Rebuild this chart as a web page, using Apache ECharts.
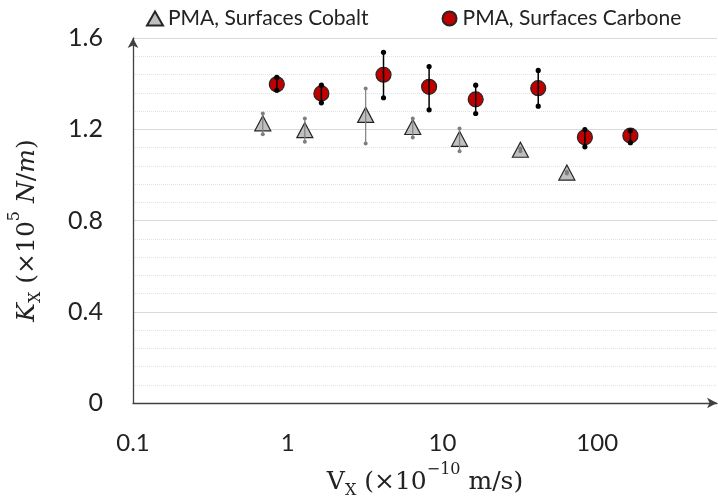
<!DOCTYPE html>
<html>
<head>
<meta charset="utf-8">
<script src="https://cdn.jsdelivr.net/npm/echarts@6/dist/echarts.min.js"></script>
<style>
  html, body { margin: 0; padding: 0; background: #fff; }
  #chart { width: 718px; height: 496px; }
</style>
</head>
<body>
<div id="chart"></div>
<script>
// PMA, Surfaces Cobalt
var cobaltX = [0.69, 1.29, 3.19, 6.43, 12.9, 31.9, 63.7];
var cobaltY = [1.226, 1.196, 1.263, 1.210, 1.158, 1.110, 1.010];
var cobaltLow = [1.178, 1.145, 1.138, 1.164, 1.104, 1.104, 1.006];
var cobaltHigh = [1.269, 1.247, 1.379, 1.247, 1.203, 1.116, 1.014];

// PMA, Surfaces Carbone
var carboneX = [0.85, 1.65, 4.16, 8.2, 16.4, 41.6, 83.3, 164];
var carboneY = [1.397, 1.357, 1.439, 1.386, 1.331, 1.380, 1.165, 1.172];
var carboneLow = [1.371, 1.316, 1.338, 1.285, 1.269, 1.301, 1.123, 1.141];
var carboneHigh = [1.427, 1.393, 1.537, 1.475, 1.393, 1.458, 1.199, 1.193];

var yTicks = [0, 0.4, 0.8, 1.2, 1.6];

function pairs(xs, ys) {
  return xs.map(function (x, i) { return [x, ys[i]]; });
}
function errRows(xs, lo, hi) {
  return xs.map(function (x, i) { return [x, lo[i], hi[i]]; });
}

// error bar drawn as a line with small dots at both ends
function errorBar(color, width, dot) {
  return function (params, api) {
    var p1 = api.coord([api.value(0), api.value(1)]);
    var p2 = api.coord([api.value(0), api.value(2)]);
    return {
      type: 'group',
      children: [
        { type: 'line', shape: { x1: p1[0], y1: p1[1], x2: p2[0], y2: p2[1] },
          style: { stroke: color, lineWidth: width } },
        { type: 'circle', shape: { cx: p1[0], cy: p1[1], r: dot }, style: { fill: color } },
        { type: 'circle', shape: { cx: p2[0], cy: p2[1], r: dot }, style: { fill: color } }
      ]
    };
  };
}

var serif = 'DejaVu Serif';
var ink = '#222';

var chart = echarts.init(document.getElementById('chart'));
chart.setOption({
  animation: false,
  textStyle: { fontFamily: 'Lato' },
  legend: {
    top: 3,
    left: 141,
    itemGap: 73,
    itemWidth: 16,
    itemHeight: 14,
    textStyle: { fontSize: 21, color: ink, fontFamily: 'Lato' },
    data: ['PMA, Surfaces Cobalt', 'PMA, Surfaces Carbone']
  },
  grid: { left: 133, top: 38, right: 1, bottom: 93, containLabel: false, outerBoundsMode: 'none' },
  xAxis: {
    type: 'log',
    logBase: 10,
    min: 0.1,
    max: 595,
    axisLine: { show: true, symbol: ['none', 'arrow'], symbolSize: [8, 10],
      lineStyle: { color: '#404040', width: 1.3 } },
    axisTick: { show: false },
    splitLine: { show: false },
    axisLabel: {
      fontSize: 24, color: ink, margin: 28, showMaxLabel: false,
      formatter: function (v) { return String(parseFloat(v.toPrecision(6))); }
    },
    name: '{b|V}{s|X}{b| (×10}{p|−10}{b| m/s)}',
    nameLocation: 'middle',
    nameGap: 62,
    nameTextStyle: {
      rich: {
        b: { fontFamily: serif, fontSize: 25, color: ink, lineHeight: 30, verticalAlign: 'bottom' },
        s: { fontFamily: serif, fontSize: 16, color: ink, lineHeight: 16, verticalAlign: 'bottom', padding: [0, 0, -4, 0] },
        p: { fontFamily: serif, fontSize: 16, color: ink, lineHeight: 16, verticalAlign: 'top', padding: [-3, 0, 0, 0] }
      }
    }
  },
  yAxis: {
    type: 'value',
    min: yTicks[0],
    max: yTicks[yTicks.length - 1],
    interval: 0.4,
    axisLine: { show: true, symbol: ['none', 'arrow'], symbolSize: [8, 10],
      lineStyle: { color: '#404040', width: 1.3 } },
    axisTick: { show: false },
    axisLabel: { fontSize: 25, color: ink, margin: 30 },
    splitLine: { lineStyle: { color: '#d9d9d9', width: 1 } },
    minorTick: { show: false, splitNumber: 5 },
    minorSplitLine: { show: true, lineStyle: { color: '#e2e2e2', type: 'dotted', width: 1 } },
    name: '{i|K}{s|X}{b| (×10}{p|5}{b| }{i|N}{b|/}{i|m}{b|)}',
    nameLocation: 'middle',
    nameRotate: 90,
    nameGap: 93,
    nameTextStyle: {
      padding: [0, 20, 0, 0],
      rich: {
        b: { fontFamily: serif, fontSize: 25, color: ink, lineHeight: 30, verticalAlign: 'bottom' },
        i: { fontFamily: serif, fontStyle: 'italic', fontSize: 25, color: ink, lineHeight: 30, verticalAlign: 'bottom' },
        s: { fontFamily: serif, fontSize: 16, color: ink, lineHeight: 16, verticalAlign: 'bottom', padding: [0, 0, -4, 0] },
        p: { fontFamily: serif, fontSize: 16, color: ink, lineHeight: 16, verticalAlign: 'top', padding: [-3, 0, 0, 0] }
      }
    }
  },
  series: [
    {
      name: 'PMA, Surfaces Cobalt',
      type: 'scatter',
      symbol: 'triangle',
      symbolSize: [16, 15],
      itemStyle: { color: '#bfbfbf', borderColor: '#262626', borderWidth: 1.2, opacity: 1 },
      data: pairs(cobaltX, cobaltY),
      z: 2
    },
    {
      name: 'PMA, Surfaces Carbone',
      type: 'scatter',
      symbol: 'circle',
      symbolSize: 15,
      itemStyle: { color: '#c00000', borderColor: '#262626', borderWidth: 1.2, opacity: 1 },
      data: pairs(carboneX, carboneY),
      z: 2
    },
    {
      type: 'custom',
      renderItem: errorBar('#7f7f7f', 1.2, 2),
      data: errRows(cobaltX, cobaltLow, cobaltHigh),
      encode: { x: 0, y: [1, 2] },
      silent: true,
      z: 3
    },
    {
      type: 'custom',
      renderItem: errorBar('#000000', 1.5, 2.6),
      data: errRows(carboneX, carboneLow, carboneHigh),
      encode: { x: 0, y: [1, 2] },
      silent: true,
      z: 3
    }
  ]
});
</script>
</body>
</html>
